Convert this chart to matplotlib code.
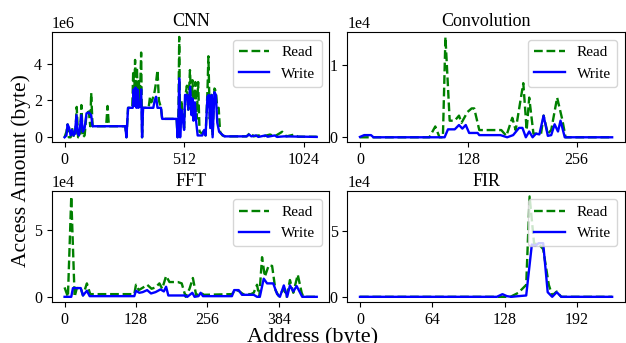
import matplotlib
matplotlib.use('Agg')
import matplotlib.pyplot as plt
import numpy as np

plt.rcParams['font.family'] = ['Liberation Serif', 'DejaVu Serif']
plt.rcParams['font.size'] = 11
plt.rcParams['mathtext.fontset'] = 'stix'

# CNN (x: address, y: 1e6 bytes)
cnn_read_x = [0, 8, 13, 18, 26, 32, 40, 46, 52, 58, 66, 72, 78, 86, 94, 104, 110, 114, 120, 178, 184, 190,
              260, 265, 272, 290, 294, 298, 302, 306, 310, 314, 318, 322, 328, 332, 336, 360, 366, 372, 380,
              386, 392, 398, 404, 413, 418, 480, 484, 488, 491, 495, 500, 506, 512, 518, 524, 530, 537, 544,
              548, 554, 560, 566, 572, 578, 590, 598, 604, 612, 616, 622, 630, 634, 642, 648, 654, 660, 666,
              676, 690, 780, 795, 810, 830, 850, 880, 900, 932, 950, 985, 1000, 1080]
cnn_read_y = [0, 0.3, 0.7, 0, 0, 0.5, 0, 0.1, 1.65, 0, 0, 1.75, 0, 0.1, 1.3, 1.4, 0.6, 2.4, 0.6, 0.6, 1.7, 0.6,
              0.6, 0, 1.6, 1.6, 3.6, 2.0, 4.2, 2.5, 3.8, 1.8, 3.2, 1.7, 4.6, 0, 1.6, 1.6, 2.2, 1.9, 2.2,
              2.5, 3.0, 3.65, 2.0, 1.6, 1.0, 1.0, 0, 1.5, 5.45, 0.5, 2.0, 1.3, 0.5, 2.3, 2.8, 1.5, 3.65, 1.5,
              3.1, 1.3, 3.0, 1.0, 3.0, 0.3, 0.2, 0.4, 0.1, 2.5, 4.4, 1.0, 2.3, 0.1, 2.65, 2.5, 1.6, 1.6, 0.3,
              0.1, 0.05, 0.05, 0.25, 0.05, 0.1, 0.05, 0.15, 0.05, 0.3, 0.05, 0.15, 0.03, 0.03]
cnn_write_x = [0, 8, 13, 20, 26, 32, 38, 44, 51, 56, 62, 72, 78, 86, 94, 104, 114, 120, 260, 265, 272, 292,
               296, 300, 304, 308, 312, 316, 324, 328, 332, 336, 380, 386, 392, 398, 413, 418, 480, 484, 488,
               491, 495, 500, 506, 512, 516, 524, 530, 538, 544, 548, 552, 558, 564, 570, 590, 598, 604, 612,
               618, 624, 630, 634, 642, 648, 654, 662, 670, 684, 780, 790, 800, 820, 830, 860, 870, 900, 910,
               940, 1080]
cnn_write_y = [0, 0.1, 0.7, 0.5, 0.1, 0.4, 0.1, 0.2, 1.2, 0.2, 0.1, 1.2, 0.3, 0.5, 1.3, 1.35, 1.2, 0.6, 0.6,
               0.0, 1.6, 1.6, 2.6, 1.7, 2.7, 1.6, 2.6, 1.6, 1.7, 2.6, 0.0, 1.6, 1.6, 2.0, 2.2, 1.6, 1.6, 1.0,
               1.0, 0.0, 1.0, 3.2, 0.0, 1.5, 1.0, 0.4, 2.3, 2.3, 1.5, 2.75, 1.2, 2.1, 0.9, 1.9, 0.8, 0.1, 0.1,
               0.4, 0.1, 2.2, 2.3, 0.5, 2.3, 0.0, 2.45, 2.3, 0.8, 0.3, 0.2, 0.05, 0.05, 0.15, 0.05, 0.1, 0.02,
               0.1, 0.03, 0.1, 0.02, 0.05, 0.02]

# Convolution (y: 1e4 bytes)
conv_read_x = [0, 82, 89, 94, 98, 101, 106, 112, 117, 120, 127, 132, 135, 141, 167, 173, 180, 184, 193, 197,
               200, 205, 214, 217, 222, 226, 233, 239, 243, 298]
conv_read_y = [0, 0, 0.15, 0, 0, 1.39, 0.23, 0.23, 0.3, 0.2, 0.35, 0.4, 0.4, 0.1, 0.1, 0.02, 0.27, 0.1, 0.75,
               0.1, 0.55, 0.05, 0.05, 0.3, 0.05, 0.1, 0.55, 0.25, 0, 0]
conv_write_x = [0, 5, 13, 16, 100, 104, 112, 117, 121, 125, 129, 139, 141, 166, 174, 181, 188, 192, 196, 200,
                204, 208, 212, 217, 222, 226, 230, 234, 237, 242, 298]
conv_write_y = [0.005, 0.03, 0.03, 0.0, 0.0, 0.11, 0.11, 0.17, 0.12, 0.17, 0.06, 0.06, 0.03, 0.03, 0.0, 0.03,
                0.13, 0.13, 0.0, 0.08, 0.0, 0.05, 0.04, 0.3, 0.02, 0.03, 0.18, 0.08, 0.23, 0.0, 0.0]

# FFT (y: 1e4 bytes)
fft_read_x = [0, 6, 12, 18, 22, 29, 33, 40, 46, 125, 128, 133, 141, 148, 156, 163, 170, 175, 182, 188, 203,
              210, 217, 224, 230, 236, 244, 250, 300, 306, 312, 320, 334, 339, 345, 349, 354, 359, 366, 372,
              378, 384, 393, 398, 404, 410, 418, 425, 428, 452]
fft_read_y = [0.7, 0, 7.47, 0, 0.65, 0.65, 0.1, 1.0, 0.2, 0.2, 0.9, 0.5, 0.7, 0.9, 0.6, 0.7, 1.0, 0.6, 1.55,
              1.1, 1.1, 1.0, 0, 0.6, 1.4, 0.1, 0.3, 0.15, 0.2, 0.5, 0.45, 0.2, 0.2, 0.3, 0.9, 0, 2.95, 1.5,
              2.35, 2.3, 0.5, 0.05, 0.6, 0, 1.25, 0.3, 1.65, 0.3, 0, 0]
fft_write_x = [0, 12, 15, 29, 33, 40, 45, 125, 128, 134, 140, 148, 155, 163, 172, 178, 182, 186, 215, 220,
               229, 233, 240, 244, 248, 300, 304, 312, 318, 339, 345, 350, 357, 363, 374, 381, 386, 393, 399,
               404, 410, 416, 426, 452]
fft_write_y = [0, 0, 0.65, 0.65, 0.1, 0.45, 0.05, 0.05, 0.45, 0.3, 0.35, 0.5, 0.25, 0.35, 0.55, 0.4, 0.75,
               0.1, 0.1, 0.0, 0.3, 0.0, 0.05, 0.3, 0.05, 0.05, 0.5, 0.5, 0.15, 0.15, 0.0, 0.0, 1.35, 1.0, 1.0,
               0.2, 0.0, 0.85, 0.0, 0.85, 0.4, 0.8, 0.0, 0.0]

# FIR (y: 1e4 bytes)
fir_read_x = [0, 133, 140, 147, 150, 154, 158, 162, 167, 170, 174, 178, 223]
fir_read_y = [0, 0, 0.3, 0.9, 7.58, 4.0, 4.0, 3.6, 0.9, 0.1, 0.4, 0, 0]
fir_write_x = [0, 121, 126, 130, 134, 140, 147, 152, 155, 158, 162, 166, 170, 174, 178, 223]
fir_write_y = [0, 0, 0.2, 0.05, 0, 0.05, 0.1, 3.95, 3.85, 4.05, 4.05, 0.35, 0, 0.35, 0, 0]

panels = [
    ('CNN', cnn_read_x, cnn_read_y, cnn_write_x, cnn_write_y, 1e6, [0, 512, 1024], [0, 2, 4]),
    ('Convolution', conv_read_x, conv_read_y, conv_write_x, conv_write_y, 1e4, [0, 128, 256], [0, 1]),
    ('FFT', fft_read_x, fft_read_y, fft_write_x, fft_write_y, 1e4, [0, 128, 256, 384], [0, 5]),
    ('FIR', fir_read_x, fir_read_y, fir_write_x, fir_write_y, 1e4, [0, 64, 128, 192], [0, 5]),
]

fig, axes = plt.subplots(2, 2, figsize=(6.26, 3.43), dpi=100)
plt.subplots_adjust(left=0.083, right=0.998, bottom=0.12, top=0.907, wspace=0.065, hspace=0.445)

for ax, (title, rx, ry, wx, wy, scale, xt, yt) in zip(axes.flat, panels):
    ax.plot(rx, np.array(ry) * scale, 'g--', lw=1.7, label='Read')
    ax.plot(wx, np.array(wy) * scale, 'b-', lw=1.7, label='Write')
    ax.set_title(title, fontsize=13, pad=4)
    ax.set_xticks(xt)
    ax.set_yticks(np.array(yt) * scale)
    ax.tick_params(labelsize=11.5)
    ax.ticklabel_format(axis='y', style='sci', scilimits=(0, 0))
    ax.yaxis.get_offset_text().set_fontsize(11.5)
    ax.legend(loc='upper right', fontsize=11)

fig.text(0.5, 0.004, 'Address (byte)', fontsize=16, ha='center', va='baseline')
fig.text(0.033, 0.504, 'Access Amount (byte)', fontsize=15.5, rotation=90, ha='center', va='center')

plt.savefig('out.png', dpi=100)
